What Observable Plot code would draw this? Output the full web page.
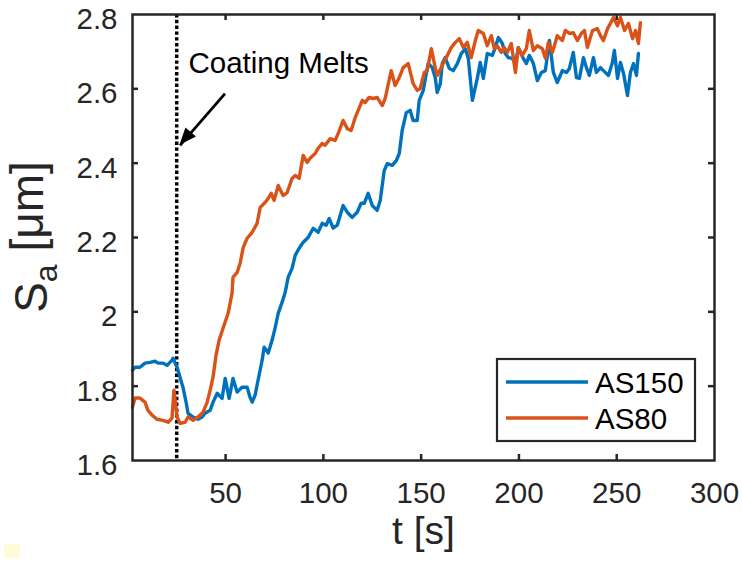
<!DOCTYPE html>
<html>
<head>
<meta charset="utf-8">
<script src="https://cdn.jsdelivr.net/npm/d3@7"></script>
<script src="https://cdn.jsdelivr.net/npm/@observablehq/plot@0.6"></script>
<style>
  body { margin: 0; background: #fff; }
  #chart { position: relative; width: 742px; height: 561px; }
</style>
</head>
<body>
<div id="chart"></div>
<script>
// ---- data ----
const as150Time = [2.4,3.7,6.2,8.8,11.4,13.9,15.5,18.0,20.1,22.6,23.1,25.2,26.7,28.3,29.8,30.8,33.4,35.9,38.0,39.5,42.1,43.6,45.7,48.2,49.8,51.8,53.8,55.9,58.4,61.0,62.5,63.6,65.1,66.6,68.7,69.7,71.8,73.8,75.3,76.9,78.9,80.5,82.0,84.0,85.6,87.6,89.7,92.2,94.8,97.3,99.4,101.4,103.0,105.0,107.1,110.1,112.2,114.7,117.3,119.3,120.9,122.9,125.0,127.5,129.1,131.1,132.7,135.2,137.3,138.8,140.3,142.4,144.4,145.9,148.0,149.0,151.1,152.6,153.6,155.7,157.2,158.2,159.8,160.8,162.3,164.4,166.4,168.5,170.5,172.6,174.1,176.2,178.7,180.2,181.8,183.8,186.4,187.9,189.5,191.5,193.0,194.6,196.6,198.2,199.7,202.2,203.8,205.3,207.4,209.4,211.5,213.5,215.6,217.6,219.6,222.2,224.3,225.8,227.8,229.4,230.9,233.0,234.5,236.0,238.1,239.6,241.7,243.2,245.8,247.8,248.8,250.4,251.9,253.5,255.5,257.0,258.6,260.1,261.1];
const as150Sa = [1.843,1.851,1.851,1.862,1.864,1.867,1.862,1.862,1.856,1.870,1.875,1.851,1.824,1.795,1.757,1.727,1.717,1.711,1.717,1.727,1.735,1.757,1.781,1.767,1.821,1.767,1.821,1.784,1.797,1.797,1.770,1.757,1.776,1.816,1.870,1.905,1.889,1.924,1.956,1.996,2.026,2.053,2.093,2.117,2.152,2.171,2.187,2.200,2.225,2.214,2.238,2.233,2.251,2.225,2.233,2.286,2.268,2.254,2.268,2.292,2.292,2.319,2.286,2.273,2.300,2.380,2.399,2.394,2.407,2.426,2.488,2.536,2.542,2.515,2.515,2.569,2.596,2.641,2.668,2.657,2.630,2.590,2.614,2.668,2.684,2.655,2.649,2.668,2.695,2.708,2.682,2.569,2.628,2.671,2.628,2.695,2.690,2.711,2.738,2.722,2.695,2.684,2.682,2.668,2.711,2.682,2.668,2.690,2.668,2.622,2.644,2.649,2.730,2.644,2.617,2.649,2.644,2.655,2.698,2.630,2.628,2.684,2.657,2.636,2.684,2.644,2.657,2.649,2.636,2.671,2.703,2.628,2.671,2.641,2.582,2.644,2.668,2.636,2.695];
const as80Time = [2.4,3.7,6.2,8.8,10.3,12.4,14.9,18.0,20.6,22.6,23.6,25.2,26.7,29.3,30.8,33.4,35.9,38.5,40.6,42.1,43.6,45.1,46.7,48.7,51.3,53.3,53.8,55.9,57.4,59.0,61.0,63.6,66.1,67.7,70.2,71.8,73.3,74.8,76.9,79.4,81.5,84.0,85.6,87.6,89.7,91.7,93.2,95.8,97.3,99.4,100.9,103.5,106.0,107.6,110.1,112.2,114.2,116.3,117.8,119.9,121.4,123.4,125.5,127.5,130.1,131.6,134.7,136.7,138.8,140.8,143.4,145.9,148.0,149.5,151.6,153.1,155.2,157.2,158.2,160.8,163.4,165.4,167.5,169.5,171.6,173.6,175.6,177.7,179.2,181.8,183.8,185.9,187.4,188.9,191.0,192.5,194.1,196.1,198.2,199.7,201.7,203.8,205.3,207.4,209.4,212.0,213.5,215.1,217.1,219.6,222.2,223.7,225.8,227.8,229.9,231.9,233.5,235.0,237.6,240.1,241.7,243.2,245.3,246.8,248.3,250.4,251.9,254.0,256.0,258.1,259.6,261.1,262.1];
const as80Sa = [1.743,1.768,1.768,1.757,1.735,1.722,1.711,1.708,1.703,1.714,1.789,1.717,1.700,1.703,1.717,1.708,1.717,1.730,1.757,1.789,1.824,1.883,1.924,1.956,1.996,2.050,2.093,2.106,2.130,2.173,2.198,2.214,2.238,2.281,2.294,2.305,2.319,2.300,2.340,2.313,2.321,2.359,2.367,2.359,2.421,2.402,2.413,2.426,2.440,2.453,2.448,2.466,2.461,2.480,2.515,2.493,2.488,2.523,2.542,2.569,2.563,2.577,2.574,2.577,2.555,2.574,2.649,2.609,2.630,2.657,2.668,2.614,2.596,2.601,2.644,2.649,2.708,2.657,2.636,2.663,2.690,2.711,2.725,2.735,2.711,2.725,2.684,2.730,2.757,2.749,2.716,2.743,2.708,2.716,2.698,2.711,2.698,2.722,2.644,2.711,2.690,2.708,2.757,2.703,2.716,2.708,2.682,2.725,2.698,2.743,2.730,2.757,2.749,2.751,2.730,2.749,2.757,2.711,2.757,2.762,2.743,2.730,2.762,2.776,2.792,2.770,2.792,2.757,2.776,2.735,2.757,2.722,2.778];
const seriesNames = ["AS150", "AS80"];
const seriesColors = ["#0072BD", "#D95319"];
const xTicks = [50, 100, 150, 200, 250, 300];
const yTicks = [1.6, 1.8, 2, 2.2, 2.4, 2.6, 2.8];
const yTickLabels = ["1.6", "1.8", "2", "2.2", "2.4", "2.6", "2.8"];
const xDomain = [2.4, 300];
const yDomain = [1.6, 2.8];
const meltTime = [25];
const annotation = [{x: 31, y: 2.669, text: "Coating Melts"}];
const arrowData = [{x1: 49.7, y1: 2.587, x2: 26.7, y2: 2.448}];
const xLabel = "t [s]";

// ---- build tables ----
const as150 = as150Time.map((t, i) => ({t, v: as150Sa[i]}));
const as80 = as80Time.map((t, i) => ({t, v: as80Sa[i]}));

const W = 742, H = 561, mL = 132, mR = 28, mT = 14, mB = 101;
const ph = H - mT - mB, pw = W - mL - mR;
const ink = "#262626";
const font = "'Liberation Sans', Arial, Helvetica, sans-serif";
const tk = 6;

const chart = Plot.plot({
  width: W, height: H,
  marginLeft: mL, marginRight: mR, marginTop: mT, marginBottom: mB,
  style: {fontFamily: font, fontSize: "29px", color: ink, background: "white", overflow: "visible"},
  x: {domain: xDomain},
  y: {domain: yDomain},
  marks: [
    Plot.ruleX(meltTime, {x: d => d, stroke: "black", strokeWidth: 3.5, strokeDasharray: "3.4,2.4"}),
    Plot.line(as150, {x: "t", y: "v", stroke: seriesColors[0], strokeWidth: 3.4, strokeLinejoin: "round"}),
    Plot.line(as80, {x: "t", y: "v", stroke: seriesColors[1], strokeWidth: 3.4, strokeLinejoin: "round"}),
    Plot.link(arrowData, {x1: "x1", y1: "y1", x2: "x2", y2: "y2", stroke: "black", strokeWidth: 2.8}),
    Plot.text(annotation, {x: "x", y: "y", text: "text", textAnchor: "start", fontSize: 29.5, fill: "black"}),
    Plot.frame({stroke: ink, strokeWidth: 2.5}),
    Plot.tickX(xTicks.filter(d => d < xDomain[1]), {x: d => d, stroke: ink, strokeWidth: 2.5, insetTop: ph - tk}),
    Plot.tickX(xTicks.filter(d => d < xDomain[1]), {x: d => d, stroke: ink, strokeWidth: 2.5, insetBottom: ph - tk}),
    Plot.tickY(yTicks.filter(d => d > yDomain[0] && d < yDomain[1]), {y: d => d, stroke: ink, strokeWidth: 2.5, insetRight: pw - tk}),
    Plot.tickY(yTicks.filter(d => d > yDomain[0] && d < yDomain[1]), {y: d => d, stroke: ink, strokeWidth: 2.5, insetLeft: pw - tk}),
    Plot.axisX(xTicks, {tickSize: 0, tickPadding: 22, label: null, fontSize: 29.5, fill: ink}),
    Plot.axisY(yTicks, {tickSize: 0, tickPadding: 15, label: null, fontSize: 29.5, fill: ink, dy: 5,
      tickFormat: d => yTickLabels[yTicks.indexOf(d)]}),
    Plot.text([xLabel], {frameAnchor: "bottom", dy: 83, text: d => d, fontSize: 39, fill: ink})
  ]
});

document.getElementById("chart").appendChild(chart);

const svg = d3.select(chart);
const sx = chart.scale("x"), sy = chart.scale("y");

// filled arrow head at the tip of the annotation arrow
arrowData.forEach(a => {
  const tx = sx.apply(a.x2), ty = sy.apply(a.y2);
  const fx = sx.apply(a.x1), fy = sy.apply(a.y1);
  const ang = Math.atan2(ty - fy, tx - fx);
  const L = 17, hw = 7;
  const bx = tx - L * Math.cos(ang), by = ty - L * Math.sin(ang);
  const px = -Math.sin(ang), py = Math.cos(ang);
  svg.append("path")
    .attr("d", `M${tx},${ty}L${bx + hw * px},${by + hw * py}L${bx - hw * px},${by - hw * py}Z`)
    .attr("fill", "black");
});

// y-axis label with subscript
const yl = svg.append("text")
  .attr("transform", `translate(47,${mT + ph / 2}) rotate(-90)`)
  .attr("text-anchor", "middle")
  .attr("font-family", font)
  .attr("font-size", 46)
  .attr("fill", ink);
yl.append("tspan").text("S");
yl.append("tspan").attr("font-size", 32).attr("dy", "0.3em").text("a");
yl.append("tspan").attr("dy", "-0.3em").text(" [μm]");

// legend box
const lg = svg.append("g");
lg.append("rect").attr("x", 497).attr("y", 359).attr("width", 198).attr("height", 82)
  .attr("fill", "white").attr("stroke", ink).attr("stroke-width", 2.2);
seriesNames.forEach((name, i) => {
  const cy = 382 + i * 36;
  lg.append("line").attr("x1", 506).attr("x2", 588).attr("y1", cy).attr("y2", cy)
    .attr("stroke", seriesColors[i]).attr("stroke-width", 3.4);
  lg.append("text").attr("x", 595).attr("y", cy).attr("dy", "0.36em")
    .attr("text-anchor", "start")
    .attr("font-family", font).attr("font-size", 29.5).attr("fill", "black").text(name);
});

// faint yellow mark in the corner of the original image
svg.append("rect").attr("x", 4).attr("y", 544).attr("width", 16).attr("height", 14).attr("fill", "#fffcd8");
</script>
</body>
</html>
